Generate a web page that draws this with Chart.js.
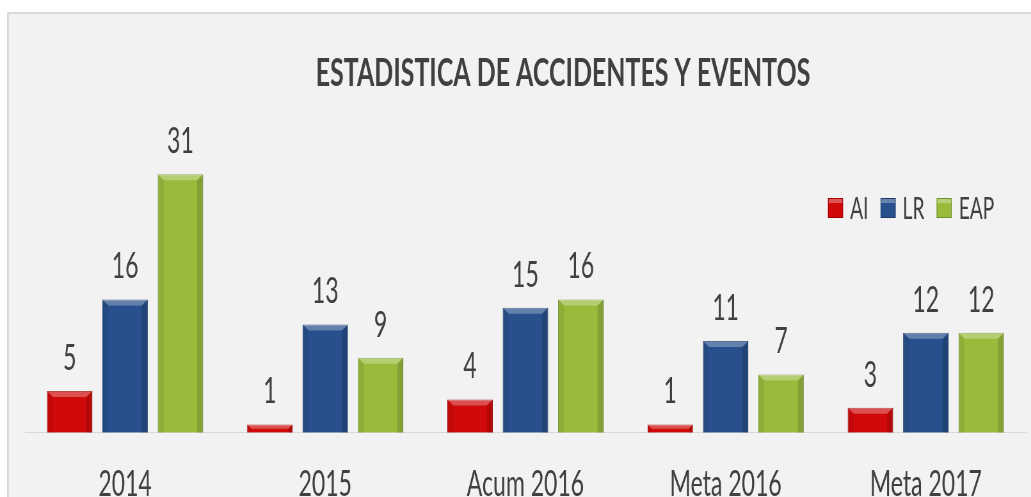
<!DOCTYPE html>
<html>
<head>
<meta charset="utf-8">
<title>Estadistica de accidentes y eventos</title>
<script src="https://cdn.jsdelivr.net/npm/chart.js@4.4.1/dist/chart.umd.min.js"></script>
<style>
    html, body { margin: 0; padding: 0; background: #ffffff; }
    body { width: 1031px; height: 497px; overflow: hidden; position: relative; }
    #panel { position: absolute; left: 7px; top: 12px; width: 1040px; height: 500px;
             background: #f2f2f2; border-left: 2px solid #dadada; border-top: 2px solid #dadada; }
    #grafbarras { position: absolute; left: 0; top: 0; transform-origin: 0 0; }
</style>
</head>
<body>
<div id="panel"></div>
<canvas id="grafbarras"></canvas>

<script>
// datos del grafico
var titulo = "ESTADISTICA DE ACCIDENTES Y EVENTOS";
var categorias = ["2014", "2015", "Acum 2016", "Meta 2016", "Meta 2017"];
var series = ["AI", "LR", "EAP"];
var valoresAI = [5, 1, 4, 1, 3];
var valoresLR = [16, 13, 15, 11, 12];
var valoresEAP = [31, 9, 16, 7, 12];

var colores = ["#d00a0a", "#27508c", "#98bb3c"];
var bordes = ["#a30000", "#1b3a68", "#73922a"];

// el grafico original esta comprimido a lo ancho
var escalaX = 0.64;
var ancho = Math.ceil(1031 / escalaX);
var alto = 552;
var fuente = "Lato, 'Open Sans', sans-serif";
var colorTexto = "#404040";

var lienzo = document.getElementById("grafbarras");
lienzo.width = ancho;
lienzo.height = alto;
lienzo.style.width = ancho + "px";
lienzo.style.height = alto + "px";
lienzo.style.transform = "scaleX(" + escalaX + ")";

// titulo (en el original no esta centrado en el lienzo)
var pluginTitulo = {
    id: "tituloDesplazado",
    afterDraw: function(chart) {
        var ctx = chart.ctx;
        ctx.save();
        ctx.font = "bold 39px " + fuente;
        ctx.fillStyle = colorTexto;
        ctx.textAlign = "center";
        ctx.textBaseline = "alphabetic";
        ctx.fillText(titulo, 563 / escalaX, 86);
        ctx.restore();
    }
};

// relieve de las barras (bisel claro arriba, lados oscuros)
var pluginBisel = {
    id: "bisel",
    afterDatasetsDraw: function(chart) {
        var ctx = chart.ctx;
        ctx.save();
        chart.data.datasets.forEach(function(ds, i) {
            chart.getDatasetMeta(i).data.forEach(function(bar) {
                var p = bar.getProps(["x", "y", "base", "width"], true);
                var izq = p.x - p.width / 2, der = p.x + p.width / 2;
                var h = p.base - p.y;
                var b = Math.min(6, h / 2);
                var bx = b / escalaX;
                ctx.fillStyle = "rgba(255,255,255,0.28)";
                ctx.beginPath();
                ctx.moveTo(izq, p.y); ctx.lineTo(der, p.y);
                ctx.lineTo(der - bx, p.y + b); ctx.lineTo(izq + bx, p.y + b);
                ctx.closePath(); ctx.fill();
                ctx.fillStyle = "rgba(0,0,0,0.07)";
                ctx.beginPath();
                ctx.moveTo(izq, p.y); ctx.lineTo(izq + bx, p.y + b);
                ctx.lineTo(izq + bx, p.base); ctx.lineTo(izq, p.base);
                ctx.closePath(); ctx.fill();
                ctx.fillStyle = "rgba(0,0,0,0.14)";
                ctx.beginPath();
                ctx.moveTo(der, p.y); ctx.lineTo(der - bx, p.y + b);
                ctx.lineTo(der - bx, p.base); ctx.lineTo(der, p.base);
                ctx.closePath(); ctx.fill();
            });
        });
        ctx.restore();
    }
};

// etiquetas con el valor encima de cada barra
var pluginValores = {
    id: "valores",
    afterDatasetsDraw: function(chart) {
        var ctx = chart.ctx;
        ctx.save();
        ctx.font = "36px " + fuente;
        ctx.fillStyle = colorTexto;
        ctx.textAlign = "center";
        ctx.textBaseline = "alphabetic";
        chart.data.datasets.forEach(function(ds, i) {
            chart.getDatasetMeta(i).data.forEach(function(bar, j) {
                ctx.fillText(ds.data[j], bar.x, bar.y - 21);
            });
        });
        ctx.restore();
    }
};

// leyenda dentro del area del grafico, arriba a la derecha
var pluginLeyenda = {
    id: "leyendaInterna",
    afterDraw: function(chart) {
        var ctx = chart.ctx;
        ctx.save();
        ctx.font = "30px " + fuente;
        ctx.textBaseline = "alphabetic";
        var x = 828 / escalaX;
        var arriba = 198, lado = 20, anchoCuadro = 15 / escalaX;
        chart.data.datasets.forEach(function(ds, i) {
            ctx.fillStyle = ds.backgroundColor;
            ctx.fillRect(x, arriba, anchoCuadro, lado);
            ctx.fillStyle = "rgba(255,255,255,0.3)";
            ctx.fillRect(x, arriba, anchoCuadro, 5);
            ctx.strokeStyle = ds.borderColor;
            ctx.lineWidth = 1;
            ctx.strokeRect(x + 0.5, arriba + 0.5, anchoCuadro - 1, lado - 1);
            x += anchoCuadro + 11;
            ctx.fillStyle = colorTexto;
            ctx.fillText(ds.label, x, arriba + 21);
            x += ctx.measureText(ds.label).width + 19;
        });
        ctx.restore();
    }
};

var datos = [valoresAI, valoresLR, valoresEAP];

new Chart(lienzo, {
    type: "bar",
    data: {
        labels: categorias,
        datasets: series.map(function(nombre, i) {
            return {
                label: nombre,
                data: datos[i],
                backgroundColor: colores[i],
                borderColor: bordes[i],
                borderWidth: 1,
                borderSkipped: "bottom",
                categoryPercentage: 0.83,
                barPercentage: 0.82
            };
        })
    },
    options: {
        responsive: false,
        animation: false,
        devicePixelRatio: 1,
        layout: { padding: { left: 39, right: 8, top: 141, bottom: 16 } },
        plugins: {
            legend: { display: false },
            tooltip: { enabled: false },
            title: { display: false }
        },
        scales: {
            x: {
                grid: { display: false, drawTicks: false },
                border: { display: true, color: "#d9d9d9", width: 1 },
                ticks: { color: colorTexto, font: { family: fuente, size: 36 }, padding: 30 }
            },
            y: {
                display: false,
                min: 0,
                max: 35
            }
        }
    },
    plugins: [pluginBisel, pluginValores, pluginLeyenda, pluginTitulo]
});
</script>
</body>
</html>
